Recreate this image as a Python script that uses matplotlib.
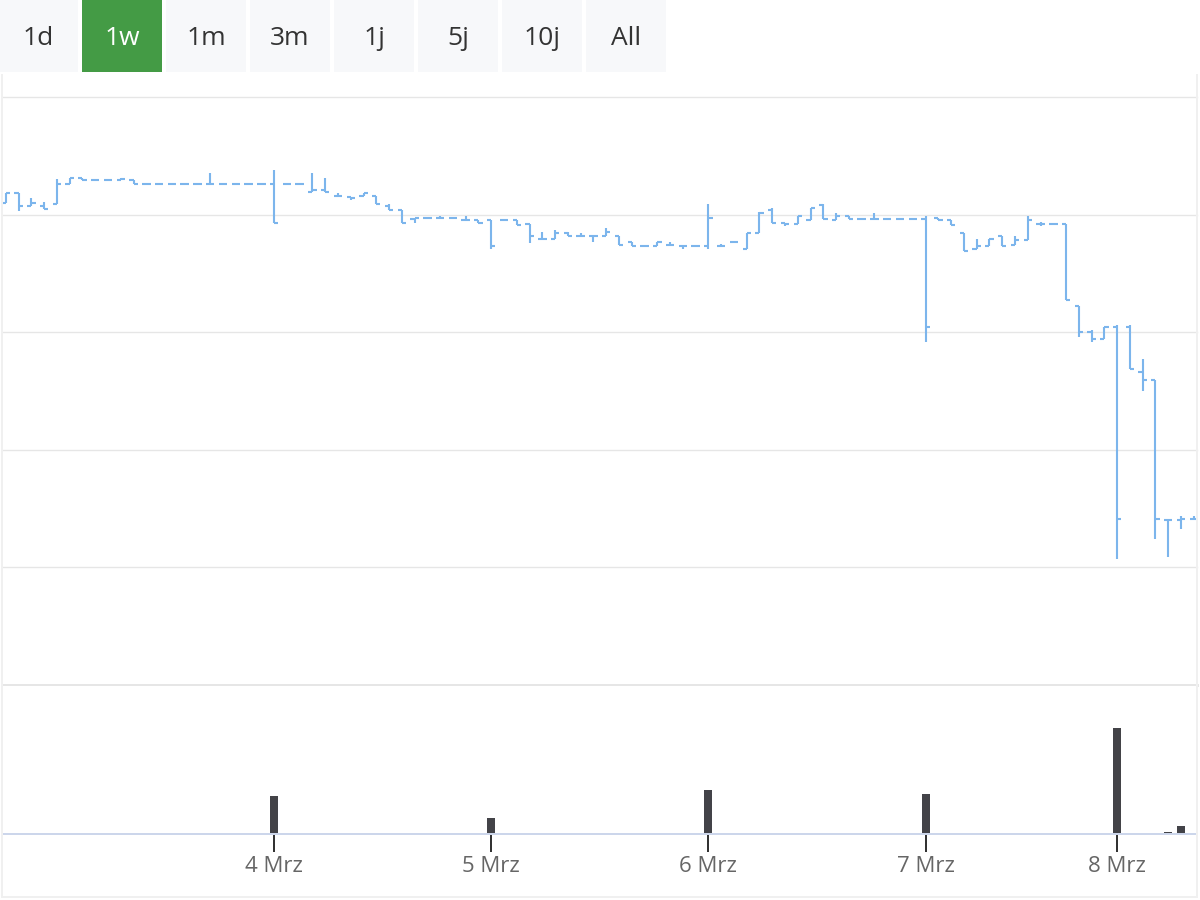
import matplotlib
matplotlib.use('Agg')
import matplotlib.pyplot as plt
from matplotlib.patches import Rectangle
from matplotlib.lines import Line2D

plt.rcParams['font.family'] = ['Open Sans', 'DejaVu Sans']

# ---- data (hourly OHLC, ordinal axis) ----
opens = [24.10, 24.18, 24.07, 24.07, 24.09, 24.26, 24.31, 24.29, 24.29, 24.29,
         24.29, 24.26, 24.26, 24.26, 24.26, 24.26, 24.26, 24.26, 24.26, 24.26,
         24.26, 24.26, 24.26, 24.26, 24.19, 24.21, 24.16, 24.15, 24.16, 24.16,
         24.07, 24.04, 23.96, 23.97, 23.97, 23.97, 23.95, 23.95, 23.95, 23.95,
         23.95, 23.92, 23.79, 23.79, 23.84, 23.82, 23.82, 23.82, 23.82, 23.77,
         23.73, 23.73, 23.74, 23.73, 23.73, 23.73, 23.73, 23.77, 23.71, 23.84,
         24.04, 23.93, 23.92, 23.95, 24.08, 23.95, 23.99, 23.96, 23.96, 23.96,
         23.96, 23.96, 23.96, 23.97, 23.95, 23.84, 23.71, 23.73, 23.82, 23.74,
         23.78, 23.92, 23.92, 23.92, 23.22, 23.00, 22.94, 23.04, 23.04, 22.66,
         22.59, 21.40, 21.40, 21.41]
highs = [24.18, 24.18, 24.14, 24.11, 24.30, 24.31, 24.31, 24.29, 24.29, 24.31,
         24.29, 24.26, 24.26, 24.26, 24.26, 24.26, 24.35, 24.26, 24.26, 24.26,
         24.26, 24.38, 24.26, 24.26, 24.35, 24.31, 24.18, 24.15, 24.18, 24.16,
         24.09, 24.04, 23.97, 23.97, 23.99, 23.97, 23.99, 23.95, 23.95, 23.95,
         23.95, 23.92, 23.85, 23.87, 23.85, 23.84, 23.82, 23.89, 23.82, 23.77,
         23.73, 23.77, 23.77, 23.73, 23.73, 24.09, 23.75, 23.77, 23.84, 24.02,
         24.06, 23.93, 23.99, 24.06, 24.09, 24.01, 23.99, 23.96, 24.01, 23.96,
         23.96, 23.96, 23.99, 23.97, 23.95, 23.84, 23.79, 23.79, 23.82, 23.82,
         23.99, 23.94, 23.92, 23.92, 23.22, 23.02, 23.04, 23.06, 23.06, 22.77,
         22.59, 21.40, 21.44, 21.44]
lows = [24.10, 24.03, 24.07, 24.05, 24.09, 24.26, 24.29, 24.29, 24.29, 24.29,
        24.26, 24.26, 24.26, 24.26, 24.26, 24.26, 24.26, 24.26, 24.26, 24.26,
        24.26, 23.93, 24.26, 24.26, 24.19, 24.19, 24.16, 24.12, 24.16, 24.09,
        24.04, 23.93, 23.93, 23.97, 23.97, 23.97, 23.95, 23.93, 23.71, 23.95,
        23.91, 23.76, 23.79, 23.79, 23.82, 23.82, 23.77, 23.82, 23.74, 23.73,
        23.73, 23.73, 23.74, 23.71, 23.73, 23.71, 23.73, 23.77, 23.71, 23.84,
        23.93, 23.90, 23.92, 23.95, 23.96, 23.95, 23.96, 23.96, 23.96, 23.96,
        23.96, 23.96, 22.92, 23.95, 23.91, 23.69, 23.71, 23.73, 23.73, 23.74,
        23.78, 23.90, 23.92, 23.27, 22.96, 22.92, 22.94, 21.07, 22.69, 22.50,
        21.24, 21.09, 21.33, 21.41]
closes = [24.18, 24.07, 24.10, 24.05, 24.26, 24.31, 24.29, 24.29, 24.29, 24.30,
          24.26, 24.26, 24.26, 24.26, 24.26, 24.26, 24.26, 24.26, 24.26, 24.26,
          24.26, 23.93, 24.26, 24.26, 24.21, 24.19, 24.16, 24.14, 24.18, 24.09,
          24.04, 23.93, 23.97, 23.97, 23.97, 23.97, 23.95, 23.93, 23.73, 23.95,
          23.91, 23.82, 23.79, 23.84, 23.82, 23.82, 23.82, 23.85, 23.74, 23.73,
          23.73, 23.77, 23.74, 23.73, 23.73, 23.97, 23.73, 23.77, 23.84, 24.01,
          23.93, 23.92, 23.99, 24.06, 23.96, 23.99, 23.96, 23.96, 23.96, 23.96,
          23.96, 23.96, 23.04, 23.95, 23.91, 23.69, 23.73, 23.79, 23.73, 23.78,
          23.95, 23.92, 23.92, 23.27, 23.00, 22.94, 23.04, 21.41, 22.69, 22.59,
          21.41, 21.40, 21.41, 21.41]
volumes = [0] * 21 + [3800] + [0] * 16 + [1600] + [0] * 16 + [4400] + [0] * 16 + \
          [4000] + [0] * 14 + [10600] + [0] * 3 + [200, 800, 0]
tick_idx = [21, 38, 55, 72, 87]
tick_labels = ['4 Mrz', '5 Mrz', '6 Mrz', '7 Mrz', '8 Mrz']
buttons = ['1d', '1w', '1m', '3m', '1j', '5j', '10j', 'All']
selected = '1w'
price_grid = [20, 21, 22, 23, 24, 25]

BLUE = '#7cb5ec'
W, H = 1200, 900
PX = 72 / 100  # points per pixel

fig = plt.figure(figsize=(12, 9), dpi=100)
fig.patch.set_facecolor('white')

def fx(p):
    return p / W

def fy(p):
    return 1 - p / H

idx = list(range(len(opens)))
xlim = (-0.3, 93.25)

# ---- price pane ----
ax = fig.add_axes([fx(2), fy(685), fx(1195), (685 - 97) / H])
ax.set_xlim(*xlim)
ax.set_ylim(20, 25)
for s in ax.spines.values():
    s.set_visible(False)
ax.set_xticks([])
ax.set_yticks([])
for g in price_grid:
    ax.axhline(g, color='#e6e6e6', lw=(3 if g == 20 else 1.4) * PX, clip_on=False, zorder=0)

t = 0.33
ax.vlines(idx, lows, highs, color=BLUE, lw=2.1 * PX, zorder=3)
ax.hlines(opens, [i - t for i in idx], idx, color=BLUE, lw=2.1 * PX, zorder=3)
ax.hlines(closes, idx, [i + t for i in idx], color=BLUE, lw=2.1 * PX, zorder=3)

# ---- volume pane ----
axv = fig.add_axes([fx(2), fy(834), fx(1195), (834 - 686) / H])
axv.set_xlim(*xlim)
axv.set_ylim(0, 14800)
for s in axv.spines.values():
    s.set_visible(False)
axv.set_yticks([])
axv.bar(idx, volumes, width=0.63, color='#434348', zorder=2)
axv.axhline(0, color='#ccd6eb', lw=2 * PX, clip_on=False, zorder=3)
axv.set_xticks(tick_idx, tick_labels)
axv.tick_params(axis='x', direction='out', length=18 * PX, width=2 * PX,
                color='#333333', labelcolor='#666666', labelsize=16, pad=3)

# ---- faint container border ----
for (x0, y0, x1, y1) in [(2, 75, 2, 897), (1197, 75, 1197, 897), (2, 897, 1197, 897)]:
    fig.add_artist(Line2D([fx(x0), fx(x1)], [fy(y0), fy(y1)], transform=fig.transFigure,
                          color='#f0f0f0', lw=2 * PX))

# ---- range selector buttons ----
for i, b in enumerate(buttons):
    x0 = 82 + (i - 1) * 84
    sel = (b == selected)
    fig.add_artist(Rectangle((fx(x0), fy(72)), fx(80), 72 / H, transform=fig.transFigure,
                             facecolor='#449b45' if sel else '#f7f8fa', edgecolor='none'))
    fig.text(fx(x0 + 40), fy(38.5), b, ha='center', va='center', fontsize=19,
             color='white' if sel else '#333333')

fig.savefig('out.png', dpi=100, facecolor='white')
